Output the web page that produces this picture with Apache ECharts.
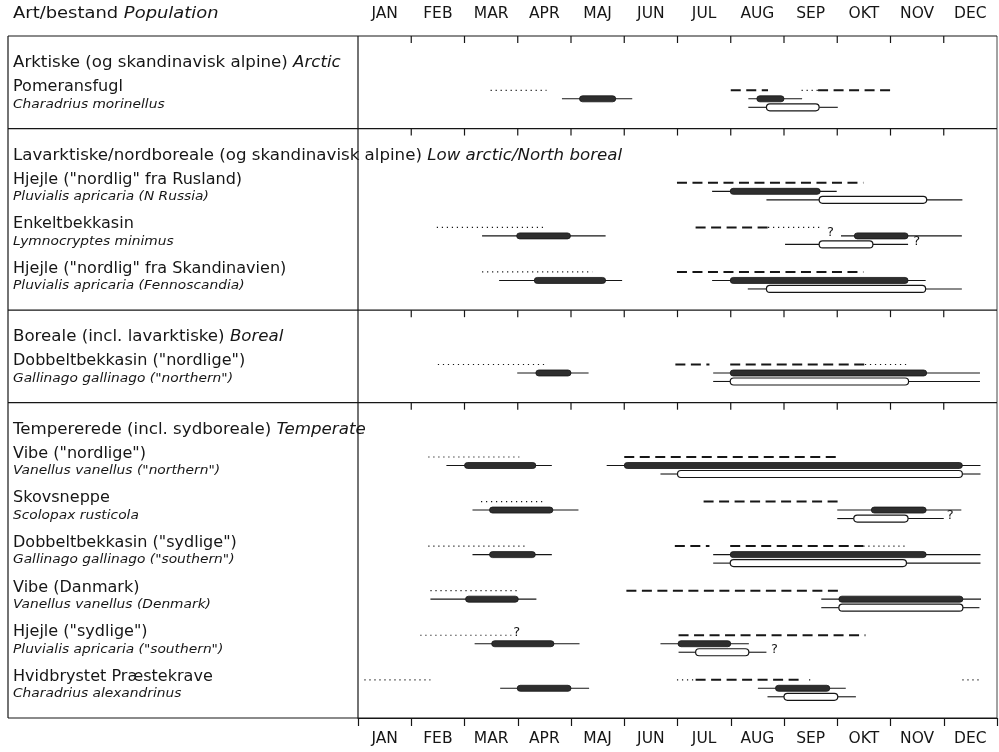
<!DOCTYPE html>
<html><head><meta charset="utf-8">
<script src="https://cdn.jsdelivr.net/npm/echarts@6/dist/echarts.min.js"></script>
<style>html,body{margin:0;padding:0;background:#fff}#c{width:999px;height:752px}</style>
</head><body><div id="c"></div>
<script>
// ---------- data ----------
const months = ['JAN','FEB','MAR','APR','MAJ','JUN','JUL','AUG','SEP','OKT','NOV','DEC'];
const sectionDa = ['Arktiske (og skandinavisk alpine)', 'Lavarktiske/nordboreale (og skandinavisk alpine)', 'Boreale (incl. lavarktiske)', 'Tempererede (incl. sydboreale)'];
const sectionEn = ['Arctic', 'Low arctic/North boreal', 'Boreal', 'Temperate'];
const speciesDa = ['Pomeransfugl', 'Hjejle ("nordlig" fra Rusland)', 'Enkeltbekkasin', 'Hjejle ("nordlig" fra Skandinavien)', 'Dobbeltbekkasin ("nordlige")', 'Vibe ("nordlige")', 'Skovsneppe', 'Dobbeltbekkasin ("sydlige")', 'Vibe (Danmark)', 'Hjejle ("sydlige")', 'Hvidbrystet Præstekrave'];
const speciesLatin = ['Charadrius morinellus', 'Pluvialis apricaria (N Russia)', 'Lymnocryptes minimus', 'Pluvialis apricaria (Fennoscandia)', 'Gallinago gallinago ("northern")', 'Vanellus vanellus ("northern")', 'Scolopax rusticola', 'Gallinago gallinago ("southern")', 'Vanellus vanellus (Denmark)', 'Pluvialis apricaria ("southern")', 'Charadrius alexandrinus'];
const speciesSection = [0, 1, 1, 1, 2, 3, 3, 3, 3, 3, 3];

// time in months from 1 Jan (0) to 31 Dec (12)
// [species, start, end]
const dottedSpans = [
  [0, 2.49, 3.54], [0, 8.33, 8.64],
  [2, 1.48, 3.50], [2, 7.70, 8.68],
  [3, 2.33, 4.40],
  [4, 1.50, 3.52], [4, 9.52, 10.36],
  [5, 1.32, 3.03],
  [6, 2.31, 3.52],
  [7, 1.32, 3.19], [7, 9.49, 10.33],
  [8, 1.36, 3.03],
  [9, 1.17, 2.88],
  [10, 0.12, 1.36], [10, 11.35, 11.70], [10, 5.99, 6.34], [10, 8.47, 8.53]
];
const dashedSpans = [
  [0, 7.00, 7.70], [0, 8.64, 10.02],
  [1, 5.99, 9.49],
  [2, 6.34, 7.70],
  [3, 5.99, 9.49],
  [4, 5.96, 6.60], [4, 6.99, 9.52],
  [5, 5.00, 9.02],
  [6, 6.49, 9.02],
  [7, 5.95, 6.60], [7, 6.99, 9.49],
  [8, 5.04, 9.07],
  [9, 6.02, 9.53],
  [10, 6.34, 8.37]
];
// [species, whiskerStart, barStart, barEnd, whiskerEnd]
const filledBars = [
  [0, 3.83, 4.16, 4.84, 5.15], [0, 7.33, 7.49, 8.00, 8.34],
  [1, 6.65, 6.99, 8.68, 8.99],
  [2, 2.33, 2.98, 3.99, 4.65], [2, 9.07, 9.32, 10.33, 11.34],
  [3, 2.65, 3.31, 4.65, 4.96], [3, 6.65, 6.99, 10.33, 10.66],
  [4, 2.99, 3.34, 4.00, 4.33], [4, 6.67, 6.99, 10.68, 11.68],
  [5, 1.66, 2.00, 3.34, 3.64], [5, 4.67, 5.00, 11.35, 11.69],
  [6, 2.15, 2.47, 3.66, 4.14], [6, 9.00, 9.64, 10.67, 11.33],
  [7, 2.15, 2.47, 3.33, 3.64], [7, 6.67, 6.99, 10.67, 11.69],
  [8, 1.36, 2.02, 3.01, 3.35], [8, 8.70, 9.03, 11.36, 11.70],
  [9, 2.19, 2.51, 3.68, 4.16], [9, 5.68, 6.01, 7.00, 7.34],
  [10, 2.67, 2.99, 4.00, 4.34], [10, 7.51, 7.84, 8.86, 9.16]
];
const openBars = [
  [0, 7.33, 7.67, 8.66, 9.01],
  [1, 7.67, 8.66, 10.68, 11.35],
  [2, 8.02, 8.66, 9.67, 10.33],
  [3, 7.32, 7.67, 10.66, 11.34],
  [4, 6.67, 6.99, 10.34, 11.68],
  [5, 5.68, 6.00, 11.35, 11.69],
  [6, 9.00, 9.31, 10.33, 11.00],
  [7, 6.67, 6.99, 10.30, 11.69],
  [8, 8.70, 9.03, 11.36, 11.67],
  [9, 6.02, 6.34, 7.34, 7.67],
  [10, 7.69, 8.00, 9.01, 9.35]
];
// uncertain ends: [species, line (0 = dotted/dashed, 1 = filled, 2 = open), month]
const queryMarks = [
  [2, 1, 8.87], [2, 2, 10.49],
  [6, 2, 11.12],
  [9, 0, 2.98], [9, 2, 7.82]
];

// ---------- layout (style constants) ----------
const INK = '#161616';
const FONT = '"DejaVu Sans", "Liberation Sans", sans-serif';
const FRAME_LEFT = 8, TEXT_LEFT = 13;
const HEAD_GAP = 27, FIRST_GAP = 27, ROW_GAP = 44.3, TAIL_GAP = 38;
const NAME_DY = -3, LATIN_DY = 14, LINE_DY = [0, 8.5, 17];
const HEAD_SCALE = 1.04, NAME_SCALE = 1.07, LATIN_SCALE = 1.06;
const sepY = [0], headY = [], rowY = [];
let acc = 0;
sectionDa.forEach((_, si) => {
  headY.push(acc + HEAD_GAP);
  const members = speciesSection.map((s, i) => s === si ? i : -1).filter(i => i >= 0);
  const first = acc + HEAD_GAP + FIRST_GAP;
  members.forEach((sp, k) => { rowY[sp] = first + k * ROW_GAP; });
  acc = first + (members.length - 1) * ROW_GAP + TAIL_GAP;
  sepY.push(acc);
});
const totalY = acc;

function yPix(api, sp, line) { return api.coord([0, rowY[sp]])[1] + LINE_DY[line]; }
function xPix(api, m) { return api.coord([m, 0])[0]; }

const base = { type: 'custom', xAxisIndex: 2, yAxisIndex: 0, clip: false, silent: true };
const richHead = {
  a: { fontSize: 16, fontFamily: FONT, fill: INK },
  b: { fontSize: 16, fontFamily: FONT, fontStyle: 'italic', fill: INK }
};

const chart = echarts.init(document.getElementById('c'), null, { renderer: 'canvas' });
chart.setOption({
  animation: false,
  backgroundColor: '#fff',
  grid: { left: 358, right: 2, top: 36, bottom: 34 },
  graphic: [{
    type: 'text', x: TEXT_LEFT, y: 14, scaleX: 1.12,
    style: { text: '{a|Art/bestand }{b|Population}', verticalAlign: 'middle', rich: richHead }
  }],
  xAxis: [
    { type: 'category', data: months, position: 'top', boundaryGap: true,
      axisLine: { show: false }, axisTick: { show: false },
      axisLabel: { margin: 14, fontSize: 15.5, fontFamily: FONT, color: INK } },
    { type: 'category', data: months, position: 'bottom', boundaryGap: true,
      axisLine: { show: true, lineStyle: { color: INK, width: 1.2 } },
      axisTick: { show: true, length: 8, lineStyle: { color: INK, width: 1.2 } },
      axisLabel: { margin: 13, fontSize: 15.5, fontFamily: FONT, color: INK } },
    { type: 'value', min: 0, max: 12, show: false }
  ],
  yAxis: [{ type: 'value', min: 0, max: totalY, inverse: true, show: false }],
  series: [
    // frame: outer left border, divider, right border, bottom line
    Object.assign({}, base, {
      data: [[0, 0]],
      renderItem: (p, api) => {
        const yT = api.coord([0, 0])[1], yB = api.coord([0, totalY])[1];
        const x0 = xPix(api, 0), x12 = xPix(api, 12);
        const st = { stroke: INK, lineWidth: 1.2 };
        return { type: 'group', children: [
          { type: 'line', shape: { x1: FRAME_LEFT, y1: yT, x2: FRAME_LEFT, y2: yB }, style: st },
          { type: 'line', shape: { x1: x0, y1: yT, x2: x0, y2: yB }, style: st },
          { type: 'line', shape: { x1: x12, y1: yT, x2: x12, y2: yB }, style: { stroke: INK, lineWidth: 0.8 } },
          { type: 'line', shape: { x1: FRAME_LEFT, y1: yB, x2: x12, y2: yB }, style: st }
        ] };
      }
    }),
    // section separators with month ticks
    Object.assign({}, base, {
      data: sepY.slice(0, -1).map(v => [0, v]),
      renderItem: (p, api) => {
        const y = api.coord([0, api.value(1)])[1];
        const kids = [{ type: 'line', shape: { x1: FRAME_LEFT, y1: y, x2: xPix(api, 12), y2: y }, style: { stroke: INK, lineWidth: 1.2 } }];
        for (let m = 1; m < 12; m++) {
          const x = xPix(api, m);
          kids.push({ type: 'line', shape: { x1: x, y1: y, x2: x, y2: y + 7 }, style: { stroke: INK, lineWidth: 1.2 } });
        }
        return { type: 'group', children: kids };
      }
    }),
    // section headings
    Object.assign({}, base, {
      data: headY.map(v => [0, v]),
      renderItem: (p, api) => {
        const i = p.dataIndex;
        return { type: 'text', x: TEXT_LEFT, y: api.coord([0, api.value(1)])[1], scaleX: HEAD_SCALE,
          style: { text: '{a|' + sectionDa[i] + ' }{b|' + sectionEn[i] + '}', verticalAlign: 'middle', rich: richHead } };
      }
    }),
    // species names
    Object.assign({}, base, {
      data: rowY.map(v => [0, v]),
      renderItem: (p, api) => {
        const i = p.dataIndex;
        const y = api.coord([0, api.value(1)])[1];
        return { type: 'group', children: [
          { type: 'text', x: TEXT_LEFT, y: y + NAME_DY, scaleX: NAME_SCALE, style: { text: speciesDa[i], fontSize: 15, fontFamily: FONT, fill: INK, verticalAlign: 'middle' } },
          { type: 'text', x: TEXT_LEFT, y: y + LATIN_DY, scaleX: LATIN_SCALE, style: { text: speciesLatin[i], fontSize: 13, fontFamily: FONT, fontStyle: 'italic', fill: INK, verticalAlign: 'middle' } }
        ] };
      }
    }),
    // dotted lines
    Object.assign({}, base, {
      data: dottedSpans,
      renderItem: (p, api) => {
        const y = yPix(api, api.value(0), 0);
        return { type: 'line', shape: { x1: xPix(api, api.value(1)), y1: y, x2: xPix(api, api.value(2)), y2: y },
          style: { stroke: INK, lineWidth: 1.2, lineDash: [1.2, 3.8] } };
      }
    }),
    // dashed lines
    Object.assign({}, base, {
      data: dashedSpans,
      renderItem: (p, api) => {
        const y = yPix(api, api.value(0), 0);
        return { type: 'line', shape: { x1: xPix(api, api.value(1)), y1: y, x2: xPix(api, api.value(2)), y2: y },
          style: { stroke: INK, lineWidth: 2, lineDash: [10, 5.5] } };
      }
    }),
    // filled bars with whiskers
    Object.assign({}, base, {
      data: filledBars,
      renderItem: (p, api) => {
        const y = yPix(api, api.value(0), 1);
        const w0 = xPix(api, api.value(1)), b0 = xPix(api, api.value(2)), b1 = xPix(api, api.value(3)), w1 = xPix(api, api.value(4));
        return { type: 'group', children: [
          { type: 'line', shape: { x1: w0, y1: y, x2: w1, y2: y }, style: { stroke: INK, lineWidth: 1.1 } },
          { type: 'rect', shape: { x: b0, y: y - 3, width: b1 - b0, height: 6, r: 3 }, style: { fill: '#2e2e2e', stroke: INK, lineWidth: 0.8 } }
        ] };
      }
    }),
    // open bars with whiskers
    Object.assign({}, base, {
      data: openBars,
      renderItem: (p, api) => {
        const y = yPix(api, api.value(0), 2);
        const w0 = xPix(api, api.value(1)), b0 = xPix(api, api.value(2)), b1 = xPix(api, api.value(3)), w1 = xPix(api, api.value(4));
        return { type: 'group', children: [
          { type: 'line', shape: { x1: w0, y1: y, x2: b0, y2: y }, style: { stroke: INK, lineWidth: 1.1 } },
          { type: 'line', shape: { x1: b1, y1: y, x2: w1, y2: y }, style: { stroke: INK, lineWidth: 1.1 } },
          { type: 'rect', shape: { x: b0, y: y - 3.5, width: b1 - b0, height: 7, r: 3.5 }, style: { fill: '#fff', stroke: INK, lineWidth: 1.2 } }
        ] };
      }
    }),
    // question marks
    Object.assign({}, base, {
      data: queryMarks,
      renderItem: (p, api) => {
        const y = yPix(api, api.value(0), api.value(1));
        return { type: 'text', x: xPix(api, api.value(2)), y: y - 3,
          style: { text: '?', fontSize: 13, fontFamily: FONT, fill: INK, align: 'center', verticalAlign: 'middle' } };
      }
    })
  ]
});
</script>
</body></html>
